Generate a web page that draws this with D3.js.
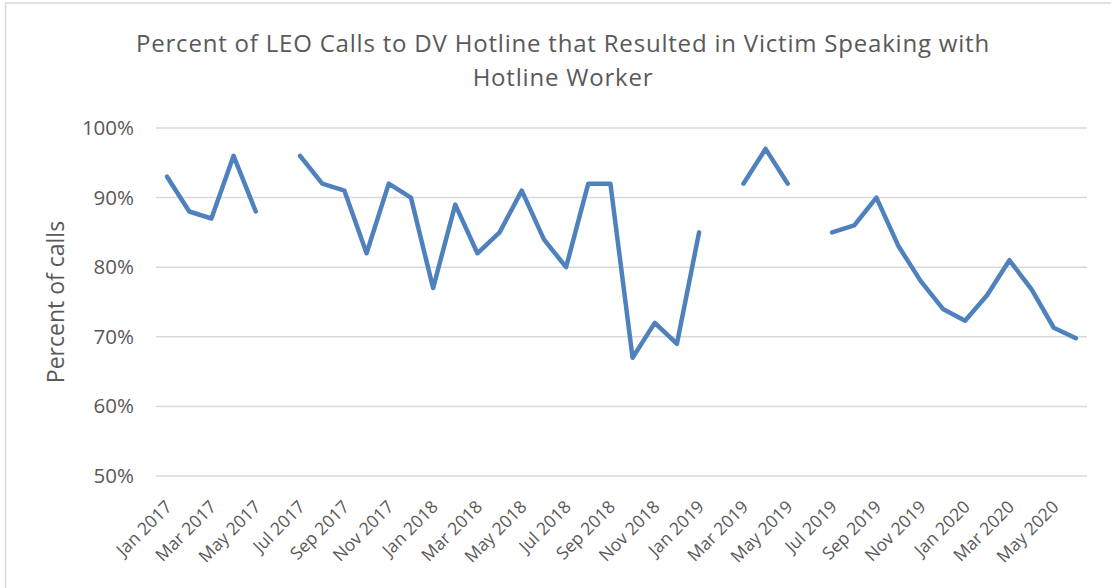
<!DOCTYPE html>
<html lang="en">
<head>
<meta charset="utf-8">
<title>LEO Calls to DV Hotline</title>
<script src="https://cdn.jsdelivr.net/npm/d3@7"></script>
<style>
body { margin: 0; background: #fff; }
text { font-family: "Open Sans", Lato, sans-serif; fill: #595959; }
</style>
</head>
<body>
<div id="chart"></div>
<script>
var months = ["Jan","Feb","Mar","Apr","May","Jun","Jul","Aug","Sep","Oct","Nov","Dec"];
var years = [2017, 2018, 2019, 2020];
// Jan 2017 .. Jun 2020, null = no data
var percentCalls = [
  93, 88, 87, 96, 88, null, 96, 92, 91, 82, 92, 90,
  77, 89, 82, 85, 91, 84, 80, 92, 92, 67, 72, 69,
  85, null, 92, 97, 92, null, 85, 86, 90, 83, 78, 74,
  72.3, 76, 81, 76.8, 71.3, 69.8
];
var yTicks = [50, 60, 70, 80, 90, 100];

var categories = [];
years.forEach(function(y) {
  months.forEach(function(m) { categories.push(m + " " + y); });
});
categories = categories.slice(0, percentCalls.length);
var data = categories.map(function(c, i) { return {label: c, value: percentCalls[i]}; });

var W = 1111, H = 588;
var plot = {left: 156, right: 1087, top: 128, bottom: 476};

var svg = d3.select("#chart").append("svg")
  .attr("width", W).attr("height", H);

// chart border (runs off the right and bottom edges)
svg.append("rect")
  .attr("x", 5.5).attr("y", 3)
  .attr("width", W + 10).attr("height", H + 10)
  .attr("fill", "none").attr("stroke", "#d9d9d9").attr("stroke-width", 1.5);

var x = d3.scaleBand().domain(categories).range([plot.left, plot.right]);
var y = d3.scaleLinear().domain([50, 100]).range([plot.bottom, plot.top]);

// gridlines
svg.append("g").selectAll("line")
  .data(yTicks)
  .enter().append("line")
  .attr("x1", plot.left).attr("x2", plot.right)
  .attr("y1", function(d) { return y(d); })
  .attr("y2", function(d) { return y(d); })
  .attr("stroke", "#d9d9d9").attr("stroke-width", 1.5);

// y axis labels
var yAxis = d3.axisLeft(y).tickValues(yTicks)
  .tickFormat(function(d) { return d + "%"; })
  .tickSize(0).tickPadding(0);
var yg = svg.append("g").attr("transform", "translate(" + (plot.left - 22) + ",0)").call(yAxis);
yg.select(".domain").remove();
yg.selectAll("text").style("font-size", "20.5px").attr("fill", "#595959");

// x axis labels (every other month)
var xAxis = d3.axisBottom(x)
  .tickValues(categories.filter(function(d, i) { return i % 2 === 0; }))
  .tickSize(0).tickPadding(0);
var xg = svg.append("g").attr("transform", "translate(0," + plot.bottom + ")").call(xAxis);
xg.select(".domain").remove();
xg.selectAll("text")
  .style("font-size", "17.5px")
  .attr("fill", "#595959")
  .attr("text-anchor", "end")
  .attr("dy", 0)
  .attr("transform", "translate(6,32) rotate(-45)");

// line with gaps
var line = d3.line()
  .defined(function(d) { return d.value !== null; })
  .x(function(d) { return x(d.label) + x.bandwidth() / 2; })
  .y(function(d) { return y(d.value); });

svg.append("path")
  .datum(data)
  .attr("d", line)
  .attr("fill", "none")
  .attr("stroke", "#4f81bd")
  .attr("stroke-width", 4.5)
  .attr("stroke-linejoin", "round")
  .attr("stroke-linecap", "round");

// title
var title = svg.append("text")
  .attr("x", 563).attr("y", 52)
  .attr("text-anchor", "middle")
  .style("font-size", "24px")
  .style("letter-spacing", "0.8px");
title.append("tspan").attr("x", 563).text("Percent of LEO Calls to DV Hotline that Resulted in Victim Speaking with");
title.append("tspan").attr("x", 563).attr("dy", 34).text("Hotline Worker");

// y axis title
svg.append("text")
  .attr("transform", "translate(64," + ((plot.top + plot.bottom) / 2) + ") rotate(-90)")
  .attr("text-anchor", "middle")
  .style("font-size", "23px")
  .text("Percent of calls");
</script>
</body>
</html>
